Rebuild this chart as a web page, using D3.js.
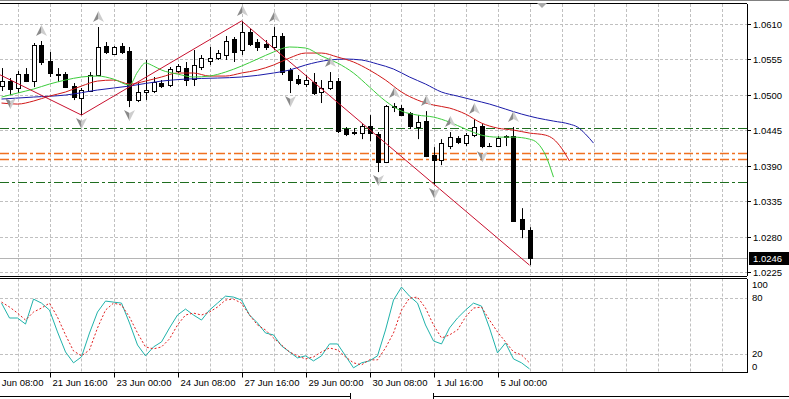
<!DOCTYPE html>
<html><head><meta charset="utf-8">
<script src="https://cdn.jsdelivr.net/npm/d3@7"></script>
<style>
html,body{margin:0;padding:0;background:#fff;overflow:hidden}
svg{display:block}
text{font-family:"Liberation Sans",Arial,sans-serif;font-size:9.5px;fill:#000}
</style></head><body>
<svg id="c" width="789" height="399"></svg>
<script>
// ---------- DATA (EURUSD H4) ----------
const opens  = [1.05137,1.05214,1.05106,1.05323,1.05214,1.05774,1.05525,1.05323,1.05323,1.05137,
                1.04950,1.05059,1.05308,1.05758,1.05634,1.05758,1.05681,1.04919,1.05044,1.05059,
                1.05183,1.05152,1.05370,1.05416,1.05245,1.05432,1.05525,1.05572,1.05618,1.05867,
                1.05696,1.05976,1.05820,1.05789,1.05743,1.05914,1.05385,1.05245,1.05168,1.05199,
                1.05044,1.05106,1.05214,1.04469,1.04422,1.04407,1.04515,1.04391,1.03956,1.04810,
                1.04795,1.04717,1.04500,1.04593,1.04065,1.03987,1.04205,1.04329,1.04251,1.04375,
                1.04515,1.04205,1.04205,1.04344,1.04360,1.03070,1.02899];
const highs  = [1.05416,1.05261,1.05370,1.05416,1.05805,1.05836,1.05665,1.05416,1.05354,1.05183,
                1.05106,1.05354,1.06053,1.05820,1.05758,1.05805,1.05743,1.05183,1.05541,1.05277,
                1.05230,1.05432,1.05479,1.05510,1.05696,1.05618,1.05743,1.05696,1.05914,1.05898,
                1.06147,1.06022,1.05867,1.05851,1.06053,1.05960,1.05416,1.05308,1.05308,1.05339,
                1.05230,1.05354,1.05261,1.04500,1.04484,1.04546,1.04686,1.04422,1.04842,1.04873,
                1.04842,1.04733,1.04686,1.04748,1.04189,1.04313,1.04422,1.04360,1.04407,1.04624,
                1.04546,1.04251,1.04360,1.04375,1.04500,1.03241,1.02946];
const lows   = [1.05059,1.04997,1.05028,1.05199,1.05121,1.05463,1.05277,1.05199,1.05106,1.04919,
                1.04686,1.05044,1.05292,1.05634,1.05618,1.05634,1.04810,1.04888,1.04919,1.05028,
                1.05106,1.05121,1.05339,1.05137,1.05137,1.05385,1.05463,1.05541,1.05541,1.05510,
                1.05618,1.05758,1.05681,1.05696,1.05696,1.05308,1.05028,1.05152,1.05121,1.04997,
                1.04873,1.05075,1.04407,1.04360,1.04375,1.04313,1.04282,1.03801,1.03941,1.04733,
                1.04671,1.04469,1.04313,1.04034,1.03599,1.03909,1.04158,1.04236,1.04205,1.04344,
                1.04173,1.04189,1.04189,1.04205,1.03039,1.02775,1.02356];
const closes = [1.05220,1.05090,1.05323,1.05214,1.05774,1.05510,1.05339,1.05308,1.05121,1.04966,
                1.05075,1.05308,1.05743,1.05665,1.05743,1.05665,1.04919,1.05044,1.05075,1.05199,
                1.05137,1.05401,1.05447,1.05230,1.05463,1.05572,1.05572,1.05649,1.05836,1.05665,
                1.05976,1.05789,1.05743,1.05743,1.05914,1.05354,1.05230,1.05183,1.05230,1.05028,
                1.05106,1.05214,1.04438,1.04391,1.04415,1.04515,1.04407,1.03956,1.04826,1.04826,
                1.04686,1.04515,1.04577,1.04049,1.03987,1.04251,1.04344,1.04267,1.04375,1.04500,
                1.04205,1.04212,1.04329,1.04368,1.03039,1.02915,1.0246];

// Alligator lines: [bar index, price]
const jaw   = [[0,1.04935],[4,1.04966],[8,1.04997],[12,1.05075],[16,1.05137],[20,1.05214],[23,1.05245],
               [27,1.05261],[30,1.05277],[34,1.05339],[36,1.05385],[38,1.05463],[41,1.05541],[43,1.05556],
               [45,1.05541],[47,1.05479],[49,1.05401],[51,1.05277],[53,1.05168],[55,1.05044],[57,1.04981],
               [59,1.04919],[61,1.04857],[63,1.04779],[65,1.04702],[67,1.04640],[69,1.04593],[71,1.04546],
               [72,1.04500],[73,1.04391],[74,1.04251]];
const teeth = [[0,1.04873],[2,1.04857],[4,1.04904],[6,1.04981],[8,1.05044],[10,1.05137],[12,1.05214],
               [14,1.05230],[16,1.05168],[18,1.05214],[20,1.05277],[22,1.05339],[24,1.05339],[26,1.05292],
               [28,1.05292],[30,1.05339],[32,1.05385],[34,1.05463],[36,1.05572],[38,1.05649],[40,1.05649],
               [42,1.05587],[44,1.05510],[46,1.05385],[48,1.05230],[50,1.05044],[52,1.04919],[54,1.04842],
               [56,1.04795],[58,1.04702],[60,1.04562],[62,1.04484],[64,1.04453],[66,1.04407],[68,1.04375],
               [69,1.04313],[70,1.04173],[71,1.03972]];
const lips  = [[0,1.04966],[2,1.05028],[4,1.05090],[6,1.05168],[8,1.05230],[10,1.05277],[12,1.05292],
               [14,1.05245],[16,1.05152],[17,1.05354],[18,1.05494],[19,1.05447],[20,1.05385],[22,1.05323],
               [24,1.05277],[26,1.05292],[28,1.05354],[30,1.05447],[32,1.05556],[34,1.05665],[36,1.05743],
               [38,1.05727],[40,1.05603],[42,1.05494],[44,1.05339],[46,1.05121],[48,1.04904],[50,1.04748],
               [52,1.04686],[54,1.04655],[56,1.04577],[58,1.04469],[60,1.04375],[62,1.04344],[64,1.04344],
               [66,1.04313],[67,1.04251],[68,1.04065],[69,1.03723]];

// ZigZag vertices [bar, price]
const zigzag = [[-8,1.0579],[10,1.04686],[30,1.06147],[66,1.02356]];

// Fractal bars
const fractalUp   = [5,12,30,34,41,49,53,56,59,64];
const fractalDown = [1,10,16,36,47,54,60];

// Horizontal levels
const greenLevels  = [1.04484,1.03641];
const orangeLevels = [1.04091,1.03998];
const bidPrice = 1.0246;

// Stochastic
const stochMain = [74.6,58.6,58.6,52.1,78.9,74.6,67.1,43.6,22.1,10.4,
                   16.8,42.5,65.0,76.8,75.7,74.6,53.2,29.6,17.9,27.5,
                   32.9,47.9,61.8,68.2,61.8,56.4,67.1,74.6,82.1,81.1,
                   77.9,61.8,53.2,42.5,40.4,28.6,22.1,15.7,17.9,12.5,
                   17.9,30.7,30.7,17.9,5.0,10.4,12.5,17.9,45.7,77.9,
                   91.8,82.1,74.6,51.1,33.9,30.7,47.9,58.6,67.1,74.6,
                   71.4,47.9,21.1,31.8,14.6,10.4,3.9];
const stochSignal = [75.7,70.4,63.9,56.4,65.0,69.3,74.6,59.6,40.4,23.2,
                     17.9,24.3,47.9,67.1,74.6,72.5,59.6,42.5,27.5,25.4,
                     27.5,36.1,51.1,61.8,63.9,61.8,65.0,70.4,77.9,78.9,
                     74.6,61.8,51.1,45.7,37.1,29.6,22.1,17.9,14.6,16.8,
                     22.1,26.4,24.3,16.8,10.4,8.2,13.6,13.6,26.4,42.5,
                     67.1,80.0,81.1,69.3,51.1,37.1,40.4,45.7,59.6,69.3,
                     70.4,56.4,43.6,32.9,22.1,18.9,10.4];

// Axis labels
const priceTicks = ["1.0610","1.0555","1.0500","1.0445","1.0390","1.0335","1.0280","1.0225"];
const stochTicks = [100,80,20,0];
const stochLevels = [80,20];
const timeLabels = ["20 Jun 08:00","21 Jun 16:00","23 Jun 00:00","24 Jun 08:00","27 Jun 16:00",
                    "29 Jun 00:00","30 Jun 08:00","1 Jul 16:00","5 Jul 00:00"];
const timeLabelBars = [-2,6,14,22,30,38,46,54,62];

// ---------- DRAW ----------
const svg = d3.select("#c");
const W = 789, H = 399, plotR = 747;
const mainTop = 4, mainBot = 275.5, subTop = 278.5, subBot = 372.5;

const x  = d3.scaleLinear().domain([0, 92]).range([1.5, 737.5]);
const y  = d3.scaleLinear().domain([1.0225, 1.0610]).range([272, 24]);
const ys = d3.scaleLinear().domain([0, 100]).range([372.5, 279.5]);

svg.append("rect").attr("width", W).attr("height", H).attr("fill", "#fff");

const defs = svg.append("defs");
defs.append("clipPath").attr("id","clipMain").append("rect")
  .attr("x",0).attr("y",mainTop).attr("width",plotR).attr("height",mainBot-mainTop);
defs.append("clipPath").attr("id","clipSub").append("rect")
  .attr("x",0).attr("y",subTop).attr("width",plotR).attr("height",subBot-subTop);

const gridColor = "#c0c0c0";
const gMain = svg.append("g").attr("clip-path","url(#clipMain)");
const gSub  = svg.append("g").attr("clip-path","url(#clipSub)");

// vertical grid
const gridBars = d3.range(2, 93, 4);
[ [gMain, mainTop, mainBot], [gSub, subTop, subBot] ].forEach(([g, t, b]) => {
  g.selectAll(null).data(gridBars).join("line")
    .attr("x1", d => Math.round(x(d)) + 0.5).attr("x2", d => Math.round(x(d)) + 0.5)
    .attr("y1", t).attr("y2", b)
    .attr("stroke", gridColor).attr("stroke-dasharray", "3,2");
});
// horizontal grid main
gMain.selectAll(null).data(priceTicks).join("line")
  .attr("x1", 0).attr("x2", plotR)
  .attr("y1", d => Math.round(y(+d)) + 0.5).attr("y2", d => Math.round(y(+d)) + 0.5)
  .attr("stroke", gridColor).attr("stroke-dasharray", "3,2");
// horizontal grid sub
gSub.selectAll(null).data(stochLevels).join("line")
  .attr("x1", 0).attr("x2", plotR)
  .attr("y1", d => Math.round(ys(d)) + 0.5).attr("y2", d => Math.round(ys(d)) + 0.5)
  .attr("stroke", gridColor).attr("stroke-dasharray", "3,2");

// horizontal levels
gMain.selectAll(null).data(greenLevels).join("line")
  .attr("x1", 0).attr("x2", plotR)
  .attr("y1", d => Math.round(y(d)) + 0.5).attr("y2", d => Math.round(y(d)) + 0.5)
  .attr("stroke", "#1f6e1f").attr("stroke-dasharray", "9,3,3,3");
gMain.selectAll(null).data(orangeLevels).join("line")
  .attr("x1", 0).attr("x2", plotR)
  .attr("y1", d => Math.round(y(d)) + 0.5).attr("y2", d => Math.round(y(d)) + 0.5)
  .attr("stroke", "#f07020").attr("stroke-width", 1.6)
  .attr("stroke-dasharray", "9,3,3,3");
// bid line
gMain.append("line").attr("x1",0).attr("x2",plotR)
  .attr("y1", Math.round(y(bidPrice)) + 0.5).attr("y2", Math.round(y(bidPrice)) + 0.5)
  .attr("stroke", "#b4b4b4");

// candles
const idx = d3.range(closes.length);
const cx = i => Math.round(x(i)) + 0.5;
gMain.selectAll(null).data(idx).join("line")
  .attr("x1", cx).attr("x2", cx)
  .attr("y1", i => y(highs[i])).attr("y2", i => y(lows[i]))
  .attr("stroke", "#000");
gMain.selectAll(null).data(idx).join("rect")
  .attr("x", i => cx(i) - 2)
  .attr("width", 4)
  .attr("y", i => Math.round(y(Math.max(opens[i], closes[i]))) + 0.5)
  .attr("height", i => Math.max(0.01, Math.round(y(Math.min(opens[i], closes[i]))) - Math.round(y(Math.max(opens[i], closes[i])))))
  .attr("fill", i => closes[i] >= opens[i] ? "#fff" : "#000")
  .attr("stroke", "#000");

// alligator
const lineP = d3.line().x(d => x(d[0])).y(d => y(d[1])).curve(d3.curveMonotoneX);
gMain.append("path").attr("d", lineP(jaw)).attr("fill","none").attr("stroke","#1a1aa8").attr("stroke-width",1);
gMain.append("path").attr("d", lineP(teeth)).attr("fill","none").attr("stroke","#d01818").attr("stroke-width",1);
gMain.append("path").attr("d", lineP(lips)).attr("fill","none").attr("stroke","#3ccc3c").attr("stroke-width",1);

// zigzag
const lineZ = d3.line().x(d => x(d[0])).y(d => y(d[1]));
gMain.append("path").attr("d", lineZ(zigzag)).attr("fill","none").attr("stroke","#c8102e").attr("stroke-width",1);

// fractals
function arrow(g, px, py, up) {
  const s = up ? 1 : -1;
  g.append("path").attr("d", `M${px},${py - 6*s} L${px - 5.5},${py + 5*s} L${px},${py + 2*s} Z`)
    .attr("fill", "#8a8a8a");
  g.append("path").attr("d", `M${px},${py - 6*s} L${px},${py + 2*s} L${px + 5.5},${py + 5*s} Z`)
    .attr("fill", "#cdcdcd");
}
fractalUp.forEach(i => arrow(gMain, cx(i), y(highs[i]) - 10, true));
fractalDown.forEach(i => arrow(gMain, cx(i), y(lows[i]) + 8, false));

// stochastic
const lineS = d3.line().x((d, i) => x(i)).y(d => ys(d));
gSub.append("path").attr("d", lineS(stochMain)).attr("fill","none").attr("stroke","#20b2aa").attr("stroke-width",1);
gSub.append("path").attr("d", lineS(stochSignal)).attr("fill","none").attr("stroke","#e02020")
  .attr("stroke-width",1).attr("stroke-dasharray","2,2");

// frames
const fr = svg.append("g").attr("stroke","#000").attr("shape-rendering","crispEdges");
fr.append("line").attr("x1",0).attr("x2",W).attr("y1",0.5).attr("y2",0.5).attr("stroke","#808080");
fr.append("line").attr("x1",0).attr("x2",plotR).attr("y1",3.5).attr("y2",3.5);
fr.append("line").attr("x1",0).attr("x2",plotR).attr("y1",mainBot+0.5).attr("y2",mainBot+0.5);
fr.append("line").attr("x1",0).attr("x2",plotR).attr("y1",subTop).attr("y2",subTop);
fr.append("line").attr("x1",0).attr("x2",plotR).attr("y1",subBot).attr("y2",subBot);
fr.append("line").attr("x1",plotR+0.5).attr("x2",plotR+0.5).attr("y1",3.5).attr("y2",mainBot+0.5);
fr.append("line").attr("x1",plotR+0.5).attr("x2",plotR+0.5).attr("y1",subTop).attr("y2",subBot);

// chart shift marker
svg.append("path").attr("d","M537,3 L547,3 L542,8 Z").attr("fill","#a8a8a8");

// price axis
const pa = svg.append("g");
priceTicks.forEach(t => {
  const py = Math.round(y(+t)) + 0.5;
  pa.append("line").attr("x1",plotR).attr("x2",plotR+4).attr("y1",py).attr("y2",py).attr("stroke","#000");
  pa.append("text").attr("x",plotR+6).attr("y",py).attr("dy","0.35em").text(t);
});
// current price box
const bpY = Math.round(y(bidPrice)) + 0.5;
pa.append("rect").attr("x",plotR+2).attr("y",bpY-6.5).attr("width",W-plotR-2).attr("height",13).attr("fill","#000");
pa.append("text").attr("x",plotR+6).attr("y",bpY).attr("dy","0.35em").style("fill","#fff").text(bidPrice.toFixed(4));

// stochastic axis
stochTicks.forEach(t => {
  const py = Math.min(Math.max(ys(t), 285), 367);
  pa.append("text").attr("x",plotR+5).attr("y",py).attr("dy","0.35em").text(t);
});

// time axis
timeLabels.forEach((t, k) => {
  const tx = cx(timeLabelBars[k]);
  pa.append("line").attr("x1",tx).attr("x2",tx).attr("y1",subBot).attr("y2",subBot+5).attr("stroke","#000");
  pa.append("text").attr("x",tx+2).attr("y",383).attr("dy","0.35em").text(t);
});

// bottom tab bar
const tb = svg.append("g").attr("stroke","#000").attr("shape-rendering","crispEdges");
tb.append("line").attr("x1",0).attr("x2",350).attr("y1",396.5).attr("y2",396.5);
tb.append("line").attr("x1",350.5).attr("x2",350.5).attr("y1",393).attr("y2",399);
tb.append("line").attr("x1",433).attr("x2",W).attr("y1",396.5).attr("y2",396.5);
tb.append("line").attr("x1",433.5).attr("x2",433.5).attr("y1",393).attr("y2",399);
</script>
</body></html>
